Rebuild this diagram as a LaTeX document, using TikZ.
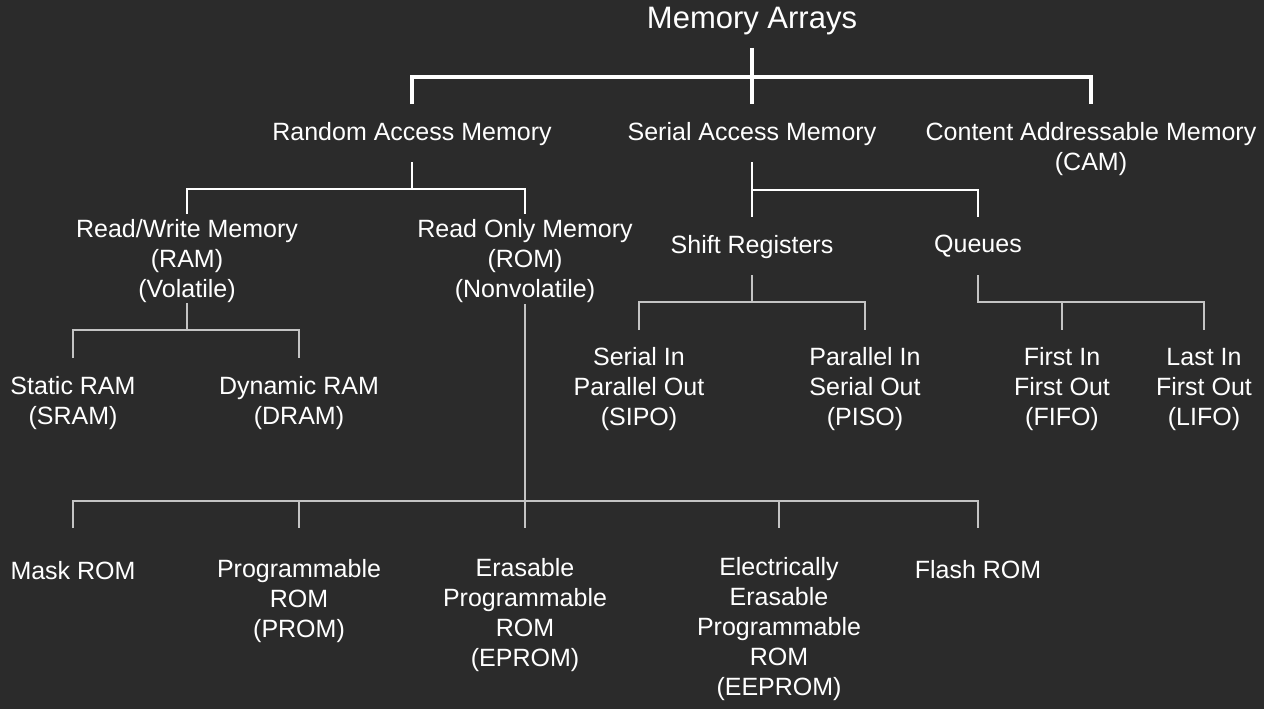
\documentclass[tikz,border=0pt]{standalone}
\usepackage{fontspec}
\setmainfont{Liberation Sans}
\usetikzlibrary{calc}
\definecolor{bgdark}{HTML}{2B2B2B}
\definecolor{linkgray}{HTML}{C4C4C4}

\begin{document}
\begin{tikzpicture}[x=1pt, y=-1pt,
    lbl/.style={font=\fontsize{25}{30}\selectfont, text=white, inner sep=0pt, align=center},
    mainlink/.style={draw=white, line width=3.4pt},
    sublink/.style={draw=white, line width=2.4pt},
    leaflink/.style={draw=linkgray, line width=1.4pt}]
        % ── BACKGROUND ─────────────────────────────
        \fill[bgdark] (0,0) rectangle (1264,709);
        \useasboundingbox (0,0) rectangle (1264,709);

        % ── TOP LEVEL ──────────────────────────────
        \node[lbl, font=\fontsize{31}{36}\selectfont] (title) at (752,21) {Memory Arrays};
        \node[lbl] (ram) at (412,134) {Random Access Memory};
        \node[lbl] (sam) at (752,134) {Serial Access Memory};
        \node[lbl] (cam) at (1091,149) {Content Addressable Memory\\(CAM)};

        % ── SECOND LEVEL ───────────────────────────
        \node[lbl] (rwm) at (187,261) {Read/Write Memory\\(RAM)\\(Volatile)};
        \node[lbl] (rom) at (525,261) {Read Only Memory\\(ROM)\\(Nonvolatile)};
        \node[lbl] (shift) at (752,247) {Shift Registers};
        \node[lbl] (queues) at (978,246) {Queues};

        % ── LEAVES ─────────────────────────────────
        \node[lbl] (sram) at (73,403) {Static RAM\\(SRAM)};
        \node[lbl] (dram) at (299,403) {Dynamic RAM\\(DRAM)};
        \node[lbl] (sipo) at (639,389) {Serial In\\Parallel Out\\(SIPO)};
        \node[lbl] (piso) at (865,389) {Parallel In\\Serial Out\\(PISO)};
        \node[lbl] (fifo) at (1062,389) {First In\\First Out\\(FIFO)};
        \node[lbl] (lifo) at (1204,389) {Last In\\First Out\\(LIFO)};

        \node[lbl] (mask) at (73,571) {Mask ROM};
        \node[lbl] (prom) at (299,601) {Programmable\\ROM\\(PROM)};
        \node[lbl] (eprom) at (525,615) {Erasable\\Programmable\\ROM\\(EPROM)};
        \node[lbl] (eeprom) at (779,629) {Electrically\\Erasable\\Programmable\\ROM\\(EEPROM)};
        \node[lbl] (flash) at (978,570) {Flash ROM};

        % ── CONNECTORS ─────────────────────────────
        \coordinate (jtop) at (752,77);
        \draw[mainlink] (title |- 0,48) -- (jtop);
        \draw[mainlink] (ram |- 0,104) |- (jtop) -| (cam |- 0,104);
        \draw[mainlink] (jtop) -- (sam |- 0,104);

        \coordinate (jram) at (412,189);
        \draw[sublink] (ram |- 0,162) -- (jram);
        \draw[sublink] (rwm |- 0,214) |- (jram) -| (rom |- 0,214);

        \coordinate (jsam) at (752,190);
        \draw[sublink] (sam |- 0,162) -- (shift |- 0,217);
        \draw[sublink] (jsam) -| (queues |- 0,217);

        \coordinate (jrw) at (187,330);
        \draw[leaflink] (rwm |- 0,303) -- (jrw);
        \draw[leaflink] (sram |- 0,358) |- (jrw) -| (dram |- 0,358);

        \coordinate (jrom) at (525,501);
        \draw[leaflink] (rom |- 0,304) -- (eprom |- 0,528);
        \draw[leaflink] (mask |- 0,528) |- (jrom) -| (flash |- 0,528);
        \foreach \n in {prom, eeprom}
          \draw[leaflink] (\n |- jrom) -- (\n |- 0,528);

        \coordinate (jshift) at (752,302);
        \draw[leaflink] (shift |- 0,275) -- (jshift);
        \draw[leaflink] (sipo |- 0,330) |- (jshift) -| (piso |- 0,330);

        \coordinate (jq) at (978,302);
        \draw[leaflink] (queues |- 0,275) -- (jq) -| (lifo |- 0,330);
        \draw[leaflink] (fifo |- jq) -- (fifo |- 0,330);
\end{tikzpicture}
\end{document}
